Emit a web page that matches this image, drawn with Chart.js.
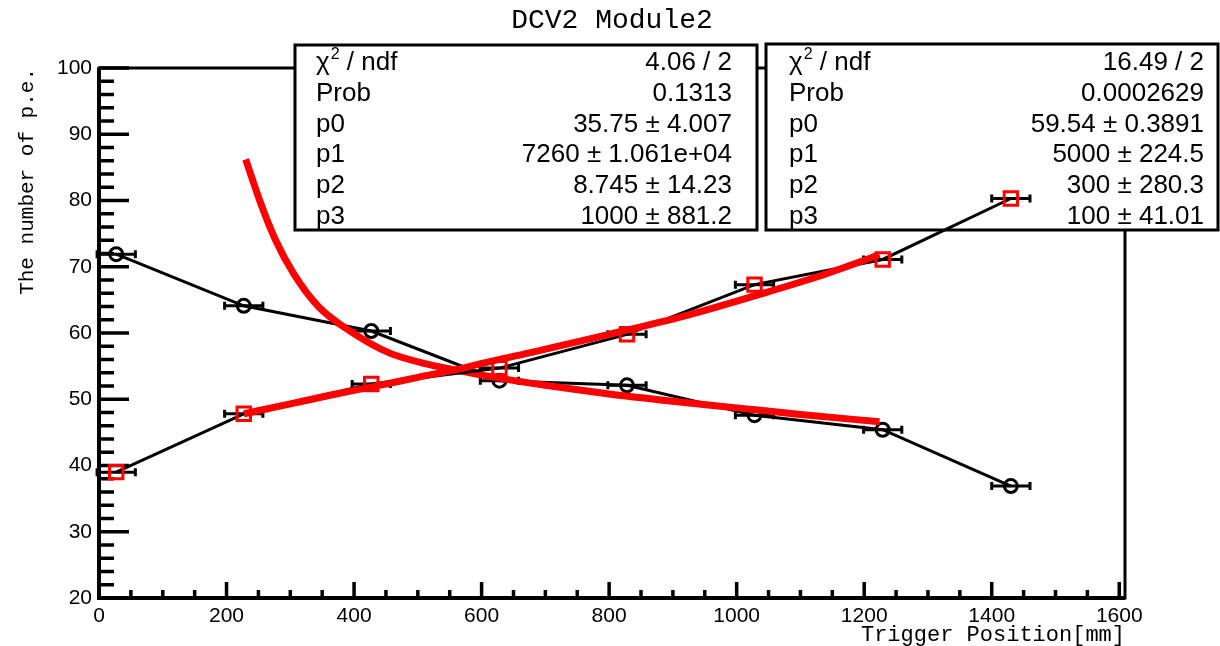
<!DOCTYPE html>
<html>
<head>
<meta charset="utf-8">
<script src="https://cdn.jsdelivr.net/npm/chart.js@4.4.1/dist/chart.umd.min.js"></script>
<style>
  html, body { margin: 0; padding: 0; background: #fff; }
</style>
</head>
<body>
<canvas id="chart" width="1220" height="646"></canvas>
<script>
const xPos = [27, 227, 427, 628, 828, 1028, 1229, 1430];
const xErr = [30, 30, 30, 30, 30, 30, 30, 30];
const circleY = [71.9, 64.1, 60.3, 52.8, 52.1, 47.6, 45.4, 36.9];
const squareY = [39.0, 47.8, 52.3, 54.7, 59.8, 67.3, 71.1, 80.3];

// fitted curves
const fallFitX = [230, 255, 277, 305, 344, 395, 455, 515, 570, 620, 700, 800, 900, 1000, 1100, 1224];
const fallFitY = [86.2, 79.2, 74.0, 69.0, 64.0, 60.2, 57.0, 55.3, 54.2, 53.3, 52.1, 50.8, 49.7, 48.7, 47.7, 46.6];
const riseFitX = [227, 300, 362, 430, 500, 571, 600, 675, 800, 916, 1028, 1130, 1224];
const riseFitY = [47.8, 49.3, 50.6, 51.9, 53.3, 54.7, 55.4, 57.0, 59.8, 62.5, 65.6, 68.6, 71.8];

const xTicks = [0, 200, 400, 600, 800, 1000, 1200, 1400, 1600];
const yTicks = [20, 30, 40, 50, 60, 70, 80, 90, 100];

// fit statistics boxes
const statNames = ['chi2', 'Prob', 'p0', 'p1', 'p2', 'p3'];
const stats1 = ['4.06 / 2', '0.1313', '35.75 \u00b1 4.007', '7260 \u00b1 1.061e+04', '8.745 \u00b1 14.23', '1000 \u00b1 881.2'];
const stats2 = ['16.49 / 2', '0.0002629', '59.54 \u00b1 0.3891', '5000 \u00b1 224.5', '300 \u00b1 280.3', '100 \u00b1 41.01'];

const chartTitle = 'DCV2 Module2';

const toPoints = (xs, ys) => xs.map((x, i) => ({x: x, y: ys[i]}));

Chart.defaults.font.family = 'Liberation Sans';
Chart.defaults.color = '#000';

function drawStatBox(ctx, box, values) {
    ctx.fillStyle = '#fff';
    ctx.fillRect(box.x0, box.y0, box.x1 - box.x0, box.y1 - box.y0);
    ctx.strokeStyle = '#000';
    ctx.lineWidth = 3;
    ctx.strokeRect(box.x0, box.y0, box.x1 - box.x0, box.y1 - box.y0);

    ctx.fillStyle = '#000';
    ctx.textBaseline = 'alphabetic';
    statNames.forEach((name, i) => {
        const yb = 70 + 30.8 * i;
        ctx.font = '26px "Liberation Sans"';
        ctx.textAlign = 'left';
        if (name === 'chi2') {
            ctx.fillText('\u03c7', box.tx, yb);
            let w = ctx.measureText('\u03c7').width;
            ctx.font = '16px "Liberation Sans"';
            ctx.fillText('2', box.tx + w + 1, yb - 11);
            w += ctx.measureText('2').width + 1;
            ctx.font = '26px "Liberation Sans"';
            ctx.fillText(' / ndf', box.tx + w, yb);
        } else {
            ctx.fillText(name, box.tx, yb);
        }
        ctx.textAlign = 'right';
        ctx.fillText(values[i], box.vx, yb);
    });
}

const rootFrame = {
    id: 'rootFrame',
    beforeDatasetsDraw(chart) {
        const {ctx, chartArea: a, scales: {x, y}} = chart;
        ctx.save();
        ctx.strokeStyle = '#000';
        ctx.lineWidth = 3;
        ctx.strokeRect(a.left, a.top, a.right - a.left, a.bottom - a.top);

        // ticks pointing inwards, like ROOT
        ctx.lineWidth = 3.5;
        ctx.beginPath();
        for (let v = 20; v <= 100; v += 2) {
            const py = y.getPixelForValue(v);
            const len = (v % 10 === 0) ? 30 : 15;
            ctx.moveTo(a.left, py);
            ctx.lineTo(a.left + len, py);
        }
        for (let v = 0; v <= 1600; v += 50) {
            const px = x.getPixelForValue(v);
            const len = (v % 200 === 0) ? 16 : 8;
            ctx.moveTo(px, a.bottom);
            ctx.lineTo(px, a.bottom - len);
        }
        ctx.stroke();

        ctx.lineWidth = 4;
        ctx.beginPath();
        ctx.moveTo(a.left, a.top);
        ctx.lineTo(a.left, a.bottom);
        ctx.lineTo(a.right, a.bottom);
        ctx.stroke();

        // title, centred on the canvas
        ctx.fillStyle = '#000';
        ctx.font = '28px "Liberation Mono"';
        ctx.textAlign = 'center';
        ctx.textBaseline = 'middle';
        ctx.fillText(chartTitle, 612, 21);

        drawStatBox(ctx, {x0: 295, y0: 45, x1: 757, y1: 230, tx: 316, vx: 732}, stats1);
        drawStatBox(ctx, {x0: 766, y0: 44, x1: 1218, y1: 230, tx: 789, vx: 1204}, stats2);
        ctx.restore();
    },
    beforeDatasetDraw(chart, args) {
        const ds = chart.data.datasets[args.index];
        if (!ds.xErr) return;
        const {ctx, scales: {x, y}} = chart;
        ctx.save();
        ctx.strokeStyle = '#000';
        ctx.lineWidth = 3;
        ds.data.forEach((p, i) => {
            const x0 = x.getPixelForValue(p.x - ds.xErr[i]);
            const x1 = x.getPixelForValue(p.x + ds.xErr[i]);
            const py = y.getPixelForValue(p.y);
            ctx.beginPath();
            ctx.moveTo(x0, py); ctx.lineTo(x1, py);
            ctx.moveTo(x0, py - 4); ctx.lineTo(x0, py + 4);
            ctx.moveTo(x1, py - 4); ctx.lineTo(x1, py + 4);
            ctx.stroke();
        });
        ctx.restore();
    }
};

new Chart(document.getElementById('chart'), {
    type: 'line',
    data: {
        datasets: [
            {
                data: toPoints(xPos, circleY), xErr: xErr,
                borderColor: '#000', borderWidth: 3,
                pointStyle: 'circle', pointRadius: 6.5, pointBorderWidth: 3,
                pointBorderColor: '#000', pointBackgroundColor: 'rgba(0,0,0,0)',
                order: 4
            },
            {
                data: toPoints(fallFitX, fallFitY),
                borderColor: '#ff0000', borderWidth: 7, pointRadius: 0,
                cubicInterpolationMode: 'monotone',
                order: 3
            },
            {
                data: toPoints(xPos, squareY), xErr: xErr,
                borderColor: '#000', borderWidth: 3,
                pointStyle: 'rect', pointRadius: 9.5, pointBorderWidth: 3,
                pointBorderColor: '#ff0000', pointBackgroundColor: 'rgba(0,0,0,0)',
                order: 2
            },
            {
                data: toPoints(riseFitX, riseFitY),
                borderColor: '#ff0000', borderWidth: 7, pointRadius: 0,
                cubicInterpolationMode: 'monotone',
                order: 1
            }
        ]
    },
    options: {
        responsive: false,
        animation: false,
        layout: { padding: { left: 0, right: 95, top: 68, bottom: 0 } },
        plugins: {
            legend: { display: false },
            tooltip: { enabled: false },
            title: { display: false }
        },
        scales: {
            x: {
                type: 'linear',
                min: 0,
                max: 1609,
                afterBuildTicks: s => { s.ticks = xTicks.map(v => ({value: v})); },
                afterFit: s => { s.height = 48; },
                grid: { display: false, drawTicks: false },
                border: { display: false },
                ticks: { padding: 6, font: { size: 21 }, color: '#000', maxRotation: 0, autoSkip: false, callback: v => String(v) },
                title: {
                    display: true, text: 'Trigger Position[mm]', align: 'end', color: '#000',
                    font: { family: 'Liberation Mono', size: 22, lineHeight: 1 },
                    padding: { top: 0, bottom: 0 }
                }
            },
            y: {
                type: 'linear',
                min: 20,
                max: 100,
                afterBuildTicks: s => { s.ticks = yTicks.map(v => ({value: v})); },
                afterFit: s => { s.width = 99; },
                grid: { display: false, drawTicks: false },
                border: { display: false },
                ticks: { padding: 7, font: { size: 21 }, color: '#000', callback: v => String(v) },
                title: {
                    display: true, text: 'The number of p.e.', align: 'end', color: '#000',
                    font: { family: 'Liberation Mono', size: 21, lineHeight: 1.2 },
                    padding: { top: 15, bottom: 0 }
                }
            }
        }
    },
    plugins: [rootFrame]
});
</script>
</body>
</html>
